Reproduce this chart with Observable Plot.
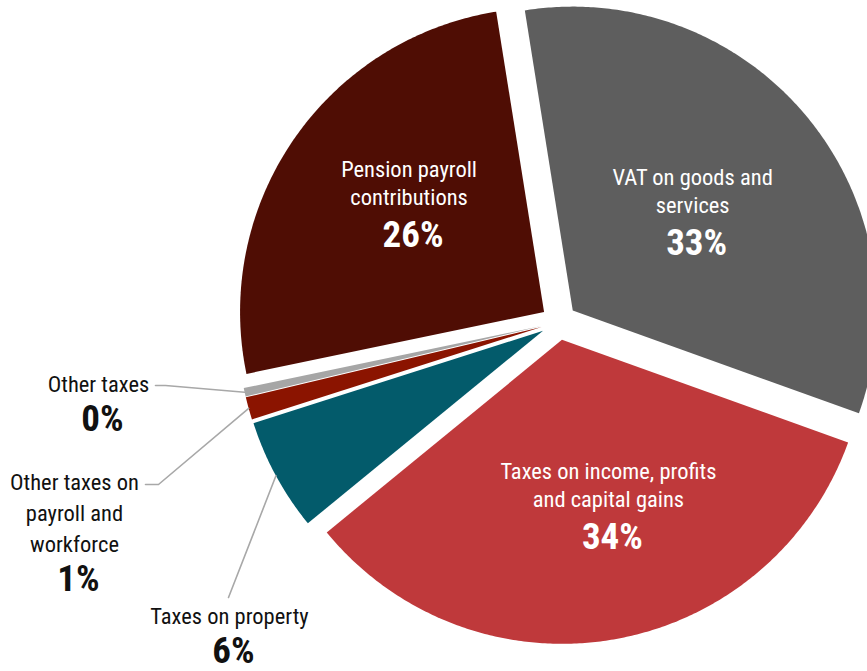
<!DOCTYPE html>
<html><head><meta charset="utf-8">
<script src="https://cdn.jsdelivr.net/npm/d3@7"></script>
<script src="https://cdn.jsdelivr.net/npm/@observablehq/plot@0.6"></script>
<style>
html,body{margin:0;padding:0;background:#fff;}
#chart svg{display:block;}
</style></head><body><div id="chart"></div>
<script>
// ---- data ----
const categories = ["VAT on goods and services", "Taxes on income, profits and capital gains", "Taxes on property", "Other taxes on payroll and workforce", "Other taxes", "Pension payroll contributions"];
const shares = [33.0, 33.6, 6.0, 1.2, 0.45, 25.75];
const nameLines = [["VAT on goods and", "services"], ["Taxes on income, profits", "and capital gains"], ["Taxes on property"], ["Other taxes on", "payroll and", "workforce"], ["Other taxes"], ["Pension payroll", "contributions"]];
const colors = ["#5e5e5e", "#bf393b", "#035b6b", "#8b1400", "#a6a6a6", "#4f0d04"];

// ---- layout ----
const W = 867, H = 671;
const CX = 558.4, CY = 321.6, R = 304, EXPLODE = 18, START = -9.07;
const FONT = "'Roboto Condensed','Liberation Sans Narrow','DejaVu Sans Condensed',Roboto,sans-serif";
// inside labels: [radius fraction, angle deg] of first-line baseline, relative to slice apex
const insidePos = {0: [0.572, 43.6], 1: [0.484, 161.6], 5: [0.628, 315.0]};
// outside labels: block centre x, first baseline y, leader elbow & end
const outsidePos = {
  4: {x: 98, y: 391, leader: [[165, 385], [155, 385]]},
  3: {x: 74, y: 489, leader: [[158, 484], [145, 484]]},
  2: {x: 229, y: 623, leader: [[228, 597]]}
};
const INSIDE_LINE = 28, OUTSIDE_LINE = 31, PCT_GAP = 42, PCT_DX = 4;

const rad = a => a * Math.PI / 180;
const polar = (x, y, r, a) => [x + r * Math.sin(rad(a)), y - r * Math.cos(rad(a))];

const total = d3.sum(shares);
let acc = START;
const slices = shares.map((v, i) => {
  const a0 = acc, a1 = acc + v / total * 360; acc = a1;
  const mid = (a0 + a1) / 2;
  const [ax, ay] = polar(CX, CY, EXPLODE, mid);
  const pts = [{x: ax, y: ay}];
  const n = Math.max(2, Math.ceil((a1 - a0) / 0.5));
  for (let k = 0; k <= n; k++) {
    const [px, py] = polar(ax, ay, R, a0 + (a1 - a0) * k / n);
    pts.push({x: px, y: py});
  }
  return {i, name: categories[i], value: v, a0, a1, mid, ax, ay, pts, color: colors[i], pct: Math.round(v) + "%"};
});

const nameRows = [], pctRows = [], leaders = [];
slices.forEach(s => {
  let bx, by, inside;
  if (insidePos[s.i]) {
    const [f, a] = insidePos[s.i];
    [bx, by] = polar(s.ax, s.ay, f * R, a);
    inside = true;
  } else {
    const o = outsidePos[s.i];
    bx = o.x; by = o.y; inside = false;
    const [ox, oy] = polar(s.ax, s.ay, R, s.mid);
    leaders.push([{x: ox, y: oy, k: s.i}, ...o.leader.map(p => ({x: p[0], y: p[1], k: s.i}))]);
  }
  const lines = nameLines[s.i];
  const step = inside ? INSIDE_LINE : OUTSIDE_LINE;
  lines.forEach((t, j) => nameRows.push({x: bx, y: by + j * step, text: t, inside}));
  pctRows.push({x: bx + PCT_DX, y: by + (lines.length - 1) * step + (inside ? PCT_GAP : 39), text: s.pct, inside});
});

const chart = Plot.plot({
  width: W, height: H, margin: 0,
  x: {domain: [0, W], range: [0, W], axis: null},
  y: {domain: [0, H], range: [0, H], axis: null},
  style: {background: "#fff"},
  marks: [
    ...slices.map(s => Plot.line(s.pts, {x: "x", y: "y", fill: s.color, stroke: "none", curve: "linear-closed"})),
    ...leaders.map(l => Plot.line(l, {x: "x", y: "y", stroke: "#a8a8a8", strokeWidth: 1.6})),
    Plot.text(nameRows, {x: "x", y: "y", text: "text", textAnchor: "middle", lineAnchor: "bottom",
      fill: d => d.inside ? "#ffffff" : "#111111", fontSize: 22.5, fontFamily: FONT}),
    Plot.text(pctRows, {x: "x", y: "y", text: "text", textAnchor: "middle", lineAnchor: "bottom",
      fill: d => d.inside ? "#ffffff" : "#111111", fontSize: 37, fontWeight: "bold", fontFamily: FONT})
  ]
});
document.getElementById("chart").appendChild(chart);
</script>
</body></html>
